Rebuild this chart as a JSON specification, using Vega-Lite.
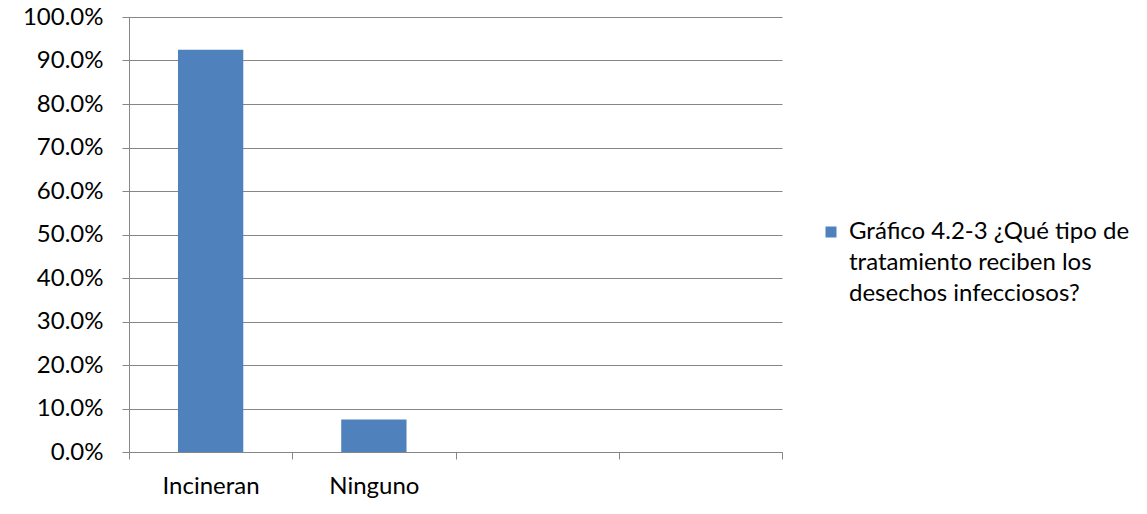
{
  "$schema": "https://vega.github.io/schema/vega-lite/v6.json",
  "width": 653,
  "height": 435,
  "autosize": {"type": "none"},
  "padding": {"left": 129, "top": 17, "right": 365, "bottom": 62},
  "background": "white",
  "data": {
    "values": [
      {"tratamiento": "Incineran", "porcentaje": 0.925, "serie": "Gráfico 4.2-3 ¿Qué tipo de\ntratamiento reciben los\ndesechos infecciosos?"},
      {"tratamiento": "Ninguno", "porcentaje": 0.075, "serie": "Gráfico 4.2-3 ¿Qué tipo de\ntratamiento reciben los\ndesechos infecciosos?"}
    ]
  },
  "mark": {"type": "bar", "width": {"band": 0.4}},
  "encoding": {
    "x": {
      "field": "tratamiento",
      "type": "nominal",
      "sort": null,
      "scale": {"domain": ["Incineran", "Ninguno", " ", "  "], "paddingInner": 0, "paddingOuter": 0},
      "axis": {
        "title": null,
        "labelAngle": 0,
        "tickBand": "extent",
        "tickSize": 7,
        "labelPadding": 15,
        "grid": false
      }
    },
    "y": {
      "field": "porcentaje",
      "type": "quantitative",
      "scale": {"domain": [0, 1], "nice": false},
      "axis": {
        "title": null,
        "format": ".1%",
        "values": [0, 0.1, 0.2, 0.3, 0.4, 0.5, 0.6, 0.7, 0.8, 0.9, 1.0],
        "tickSize": 7,
        "labelPadding": 19,
        "grid": true
      }
    },
    "color": {
      "field": "serie",
      "type": "nominal",
      "scale": {"range": ["#4F81BD"]},
      "legend": {
        "title": null,
        "orient": "none",
        "legendX": 690,
        "legendY": 203,
        "symbolType": "square",
        "symbolSize": 121,
        "symbolStrokeWidth": 0,
        "labelOffset": 6,
        "labelLimit": 400,
        "labelExpr": "split(datum.label, '\\n')",
        "encode": {
          "labels": {"update": {"lineHeight": {"value": 31}}}
        }
      }
    }
  },
  "config": {
    "view": {"stroke": null},
    "font": "Lato",
    "axis": {
      "labelFont": "Lato",
      "labelFontSize": 24,
      "labelColor": "#000000",
      "domainColor": "#868686",
      "tickColor": "#868686",
      "gridColor": "#868686",
      "gridOpacity": 1,
      "domainWidth": 1,
      "tickWidth": 1
    },
    "legend": {
      "labelFont": "Lato",
      "labelFontSize": 24,
      "labelColor": "#000000"
    }
  }
}
